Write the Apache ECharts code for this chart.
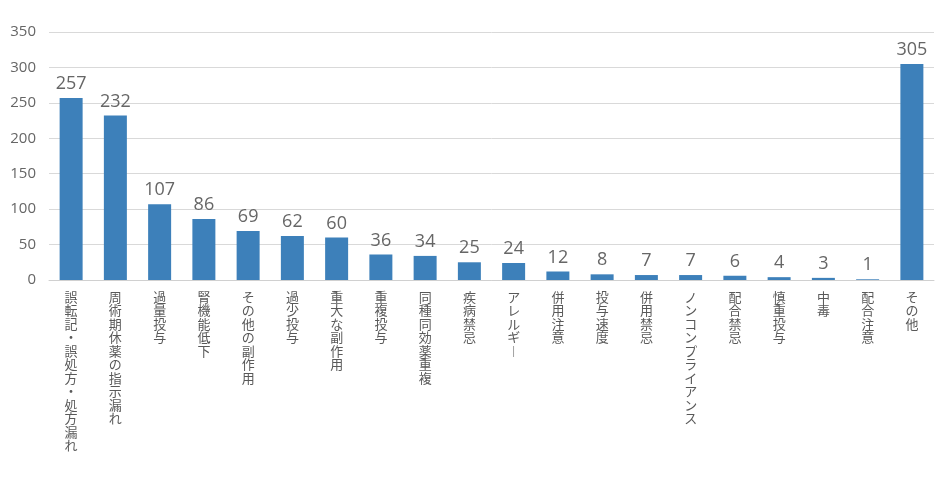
<!DOCTYPE html>
<html>
<head>
<meta charset="utf-8">
<script src="https://cdn.jsdelivr.net/npm/echarts@6/dist/echarts.min.js"></script>
<style>
  html, body { margin: 0; padding: 0; background: #fff; }
  #chart { width: 950px; height: 477px; }
</style>
</head>
<body>
<div id="chart"></div>
<script>
// カテゴリ（インシデント種別）
const categories = [
  '誤転記・誤処方・処方漏れ', '周術期休薬の指示漏れ', '過量投与', '腎機能低下',
  'その他の副作用', '過少投与', '重大な副作用', '重複投与', '同種同効薬重複',
  '疾病禁忌', 'アレルギー', '併用注意', '投与速度', '併用禁忌',
  'ノンコンプライアンス', '配合禁忌', '慎重投与', '中毒', '配合注意', 'その他'
];
// 件数
const counts = [257, 232, 107, 86, 69, 62, 60, 36, 34, 25, 24, 12, 8, 7, 7, 6, 4, 3, 1, 305];
const yTicks = [0, 50, 100, 150, 200, 250, 300, 350];

const chart = echarts.init(document.getElementById('chart'));

// 縦書き風に1文字ずつ改行（長音は縦向きの字形に）
function toVertical(s) {
  return s.split('').map(c => (c === 'ー' ? '︱' : c)).join('\n');
}

const option = {
  backgroundColor: '#fff',
  animation: false,
  grid: {
    left: 49,
    right: 16,
    top: 32,
    bottom: 197
  },
  xAxis: {
    type: 'category',
    data: categories,
    axisLine: { lineStyle: { color: '#d0d0d0', width: 1 } },
    axisTick: { show: false },
    axisLabel: {
      interval: 0,
      margin: 10,
      verticalAlign: 'top',
      color: '#595959',
      fontFamily: 'Noto Sans CJK JP',
      fontSize: 13,
      lineHeight: 13.5,
      formatter: (v) => toVertical(v)
    }
  },
  yAxis: {
    type: 'value',
    min: yTicks[0],
    max: yTicks[yTicks.length - 1],
    interval: 50,
    axisLine: { show: false },
    axisTick: { show: false },
    splitLine: { lineStyle: { color: '#d9d9d9', width: 1 } },
    axisLabel: {
      color: '#666666',
      fontFamily: 'Open Sans',
      fontSize: 15,
      margin: 13
    }
  },
  series: [
    {
      type: 'bar',
      data: counts,
      barWidth: 23,
      itemStyle: { color: '#3d80ba' },
      label: {
        show: true,
        position: 'top',
        distance: 5,
        color: '#666666',
        fontFamily: 'Open Sans',
        fontSize: 18
      }
    }
  ]
};

chart.setOption(option);
</script>
</body>
</html>
